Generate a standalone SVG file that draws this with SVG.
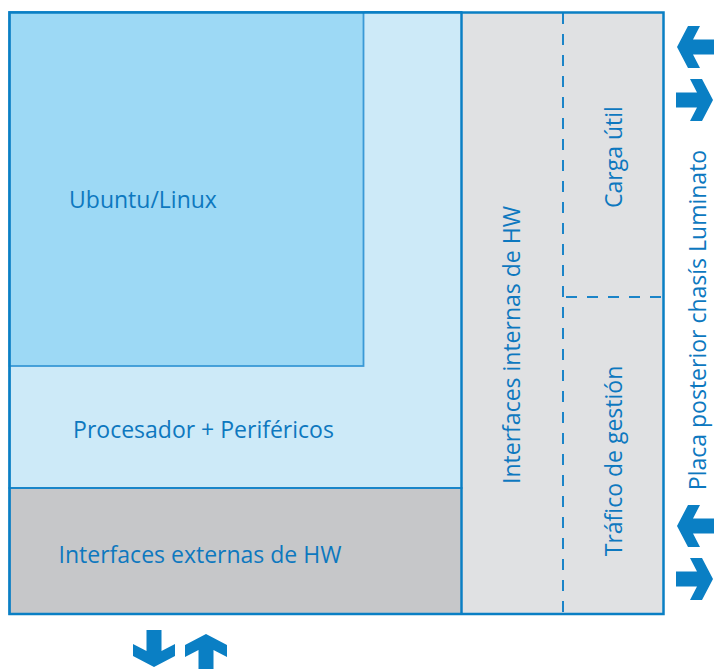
<svg xmlns="http://www.w3.org/2000/svg" width="715" height="669" viewBox="0 0 715 669">
<style>
.t{font-family:"Open Sans","Noto Sans","Liberation Sans",sans-serif;font-size:23px;fill:#0d78bf;}
.arr{fill:#0a7fc4;}
.dash{stroke:#1b84c8;stroke-width:2;stroke-dasharray:11 10;fill:none;}
</style>
<defs>
<path id="ar" d="M-37,-7.5 L-16,-7.5 L-23,-21 L-11,-21 L0,0 L-11,21 L-23,21 L-16,7.5 L-37,7.5 Z"/>
</defs>
<rect width="715" height="669" fill="#ffffff"/>
<g id="right-panel">
<rect x="461" y="12" width="202" height="602" fill="#e0e1e3"/>
</g>
<g id="procesador">
<rect x="9.5" y="12" width="452" height="476" fill="#cdeaf8" stroke="#1a86c9" stroke-width="2"/>
<text class="t" x="203.5" y="438" text-anchor="middle">Procesador + Periféricos</text>
</g>
<g id="ubuntu">
<rect x="9.5" y="12" width="354" height="354" fill="#9dd9f5" stroke="#3a9ad6" stroke-width="1.8"/>
<text class="t" x="143" y="208" text-anchor="middle">Ubuntu/Linux</text>
</g>
<g id="ext-hw">
<rect x="9.5" y="488" width="452" height="126" fill="#c6c7c9" stroke="#1a86c9" stroke-width="2"/>
<text class="t" x="200" y="563" text-anchor="middle">Interfaces externas de HW</text>
</g>
<g id="int-hw">
<line x1="461.5" y1="12" x2="461.5" y2="614" stroke="#0a7fc4" stroke-width="2"/>
<text class="t" text-anchor="middle" transform="translate(520,345) rotate(-90)">Interfaces internas de HW</text>
</g>
<g id="carga">
<text class="t" text-anchor="middle" transform="translate(622,157) rotate(-90)">Carga útil</text>
</g>
<g id="trafico">
<text class="t" text-anchor="middle" transform="translate(622,461) rotate(-90)">Tráfico de gestión</text>
</g>
<g id="connectors">
<line class="dash" x1="563" y1="13" x2="563" y2="613"/>
<line class="dash" x1="566" y1="297" x2="663" y2="297"/>
</g>
<g id="frame">
<rect x="9.5" y="12.5" width="654" height="601.5" fill="none" stroke="#0a7fc4" stroke-width="2.5"/>
</g>
<g id="placa">
<text class="t" text-anchor="middle" transform="translate(706,320) rotate(-90)">Placa posterior chasís Luminato</text>
</g>
<g id="arrows">
<use href="#ar" class="arr" transform="translate(677,47) rotate(180)"/>
<use href="#ar" class="arr" transform="translate(713,100)"/>
<use href="#ar" class="arr" transform="translate(677,526) rotate(180)"/>
<use href="#ar" class="arr" transform="translate(713,579)"/>
<use href="#ar" class="arr" transform="translate(154,667) rotate(90)"/>
<use href="#ar" class="arr" transform="translate(206,634) rotate(-90)"/>
</g>
</svg>
